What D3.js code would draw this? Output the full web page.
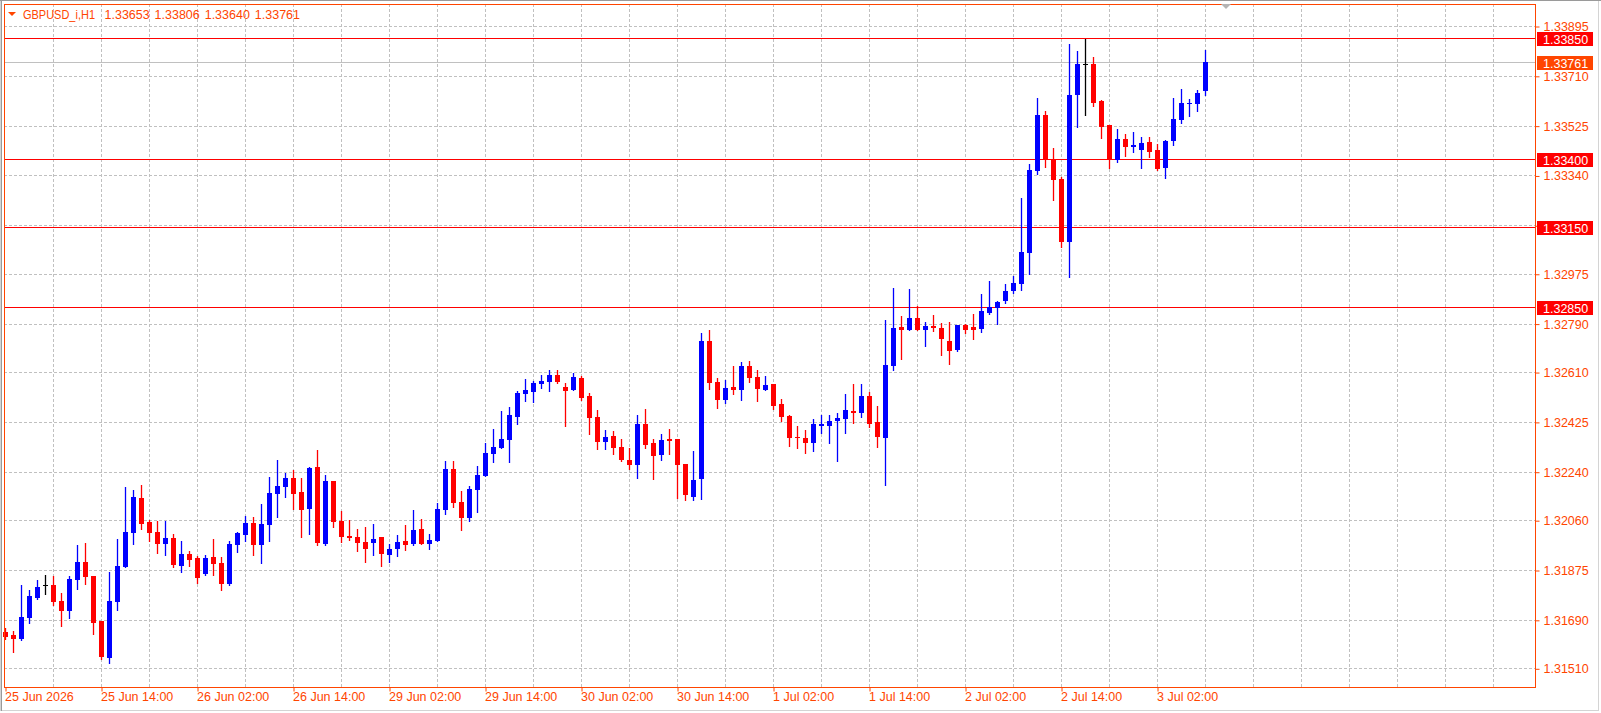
<!DOCTYPE html>
<html>
<head>
<meta charset="utf-8">
<script src="https://cdn.jsdelivr.net/npm/d3@7"></script>
<style>
html, body { margin: 0; padding: 0; background: #fff; overflow: hidden; }
svg { display: block; font-family: "Liberation Sans", Arial, sans-serif; }
</style>
</head>
<body>
<div class="chart"></div>
<script>
// hourly bars, oldest first (25 Jun 02:00 .. 3 Jul)
var openPrices = [
  1.31643, 1.31633, 1.31618, 1.31698, 1.31772, 1.31819, 1.31819, 1.31760, 1.31724, 1.31839,
  1.31904, 1.31852, 1.31685, 1.31548, 1.31757, 1.31887, 1.32013, 1.32142, 1.32053, 1.32016,
  1.31972, 1.31993, 1.31891, 1.31934, 1.31919, 1.31861, 1.31923, 1.31901, 1.31824, 1.31969,
  1.32006, 1.32049, 1.31969, 1.32043, 1.32158, 1.32183, 1.32216, 1.32164, 1.32101, 1.32257,
  1.31971, 1.32205, 1.32057, 1.32001, 1.31997, 1.31979, 1.31975, 1.31997, 1.31931, 1.31954,
  1.31982, 1.31972, 1.32027, 1.31972, 1.31983, 1.32097, 1.32250, 1.32127, 1.32068, 1.32172,
  1.32224, 1.32305, 1.32328, 1.32357, 1.32443, 1.32528, 1.32536, 1.32565, 1.32573, 1.32599,
  1.32554, 1.32543, 1.32588, 1.32521, 1.32443, 1.32350, 1.32372, 1.32331, 1.32283, 1.32264,
  1.32417, 1.32346, 1.32302, 1.32361, 1.32361, 1.32268, 1.32146, 1.32212, 1.32725, 1.32573,
  1.32506, 1.32554, 1.32543, 1.32632, 1.32591, 1.32543, 1.32565, 1.32491, 1.32446, 1.32368,
  1.32365, 1.32346, 1.32409, 1.32409, 1.32428, 1.32435, 1.32465, 1.32458, 1.32521, 1.32424,
  1.32365, 1.32632, 1.32777, 1.32766, 1.32810, 1.32766, 1.32781, 1.32773, 1.32725, 1.32691,
  1.32784, 1.32777, 1.32769, 1.32829, 1.32847, 1.32873, 1.32911, 1.32936, 1.33052, 1.33356,
  1.33564, 1.33397, 1.33326, 1.33092, 1.33638, 1.33753, 1.33753, 1.33616, 1.33527, 1.33397,
  1.33475, 1.33445, 1.33434, 1.33464, 1.33434, 1.33367, 1.33468, 1.33545, 1.33605, 1.33605,
  1.33653
];
var highPrices = [
  1.31658, 1.31648, 1.31819, 1.31800, 1.31837, 1.31856, 1.31853, 1.31789, 1.31852, 1.31967,
  1.31975, 1.31853, 1.31687, 1.31867, 1.31990, 1.32183, 1.32172, 1.32190, 1.32061, 1.32057,
  1.32057, 1.32008, 1.31982, 1.31946, 1.31927, 1.31930, 1.31990, 1.31923, 1.31982, 1.32016,
  1.32075, 1.32071, 1.32120, 1.32220, 1.32283, 1.32235, 1.32246, 1.32216, 1.32257, 1.32320,
  1.32227, 1.32206, 1.32094, 1.32060, 1.32027, 1.32034, 1.32045, 1.31998, 1.31971, 1.32005,
  1.32042, 1.32097, 1.32064, 1.32009, 1.32123, 1.32279, 1.32279, 1.32168, 1.32186, 1.32261,
  1.32346, 1.32398, 1.32465, 1.32480, 1.32539, 1.32584, 1.32576, 1.32599, 1.32617, 1.32617,
  1.32569, 1.32606, 1.32595, 1.32532, 1.32469, 1.32394, 1.32391, 1.32361, 1.32328, 1.32450,
  1.32472, 1.32361, 1.32380, 1.32398, 1.32362, 1.32269, 1.32316, 1.32755, 1.32766, 1.32588,
  1.32580, 1.32632, 1.32647, 1.32651, 1.32617, 1.32595, 1.32566, 1.32510, 1.32450, 1.32409,
  1.32394, 1.32435, 1.32450, 1.32450, 1.32458, 1.32528, 1.32565, 1.32565, 1.32536, 1.32484,
  1.32803, 1.32922, 1.32818, 1.32918, 1.32855, 1.32795, 1.32821, 1.32792, 1.32795, 1.32785,
  1.32788, 1.32825, 1.32899, 1.32948, 1.32873, 1.32936, 1.32966, 1.33256, 1.33382, 1.33627,
  1.33579, 1.33441, 1.33334, 1.33828, 1.33802, 1.33846, 1.33779, 1.33620, 1.33528, 1.33512,
  1.33493, 1.33501, 1.33482, 1.33482, 1.33456, 1.33471, 1.33627, 1.33661, 1.33623, 1.33657,
  1.33806
];
var lowPrices = [
  1.31618, 1.31571, 1.31615, 1.31679, 1.31767, 1.31787, 1.31745, 1.31668, 1.31698, 1.31804,
  1.31824, 1.31638, 1.31544, 1.31529, 1.31726, 1.31886, 1.31972, 1.32028, 1.31983, 1.31939,
  1.31931, 1.31887, 1.31868, 1.31891, 1.31826, 1.31857, 1.31857, 1.31801, 1.31820, 1.31941,
  1.31983, 1.31931, 1.31902, 1.31983, 1.32072, 1.32146, 1.32101, 1.31997, 1.32008, 1.31967,
  1.31967, 1.32034, 1.31979, 1.31986, 1.31945, 1.31905, 1.31931, 1.31891, 1.31905, 1.31928,
  1.31950, 1.31969, 1.31971, 1.31954, 1.31982, 1.32083, 1.32109, 1.32023, 1.32057, 1.32090,
  1.32223, 1.32276, 1.32327, 1.32276, 1.32417, 1.32502, 1.32498, 1.32550, 1.32539, 1.32569,
  1.32409, 1.32542, 1.32506, 1.32380, 1.32324, 1.32324, 1.32305, 1.32279, 1.32250, 1.32216,
  1.32327, 1.32212, 1.32283, 1.32305, 1.32142, 1.32135, 1.32135, 1.32138, 1.32547, 1.32476,
  1.32495, 1.32528, 1.32506, 1.32573, 1.32502, 1.32542, 1.32472, 1.32428, 1.32335, 1.32328,
  1.32309, 1.32316, 1.32383, 1.32346, 1.32279, 1.32383, 1.32420, 1.32443, 1.32406, 1.32331,
  1.32190, 1.32617, 1.32658, 1.32765, 1.32765, 1.32706, 1.32762, 1.32673, 1.32640, 1.32690,
  1.32755, 1.32732, 1.32758, 1.32825, 1.32788, 1.32866, 1.32903, 1.32914, 1.32974, 1.33345,
  1.33371, 1.33248, 1.33074, 1.32962, 1.33519, 1.33564, 1.33597, 1.33479, 1.33367, 1.33390,
  1.33412, 1.33427, 1.33367, 1.33408, 1.33360, 1.33330, 1.33453, 1.33534, 1.33560, 1.33579,
  1.33640
];
var closePrices = [
  1.31627, 1.31620, 1.31700, 1.31778, 1.31811, 1.31819, 1.31757, 1.31724, 1.31841, 1.31904,
  1.31850, 1.31678, 1.31552, 1.31760, 1.31889, 1.32016, 1.32146, 1.32047, 1.32013, 1.31972,
  1.31993, 1.31893, 1.31934, 1.31913, 1.31845, 1.31919, 1.31898, 1.31824, 1.31971, 1.32012,
  1.32049, 1.31969, 1.32045, 1.32160, 1.32186, 1.32216, 1.32157, 1.32097, 1.32253, 1.31975,
  1.32205, 1.32053, 1.31997, 1.31993, 1.31976, 1.31953, 1.31990, 1.31934, 1.31953, 1.31979,
  1.31969, 1.32023, 1.31972, 1.31986, 1.32101, 1.32250, 1.32123, 1.32068, 1.32175, 1.32227,
  1.32309, 1.32331, 1.32361, 1.32450, 1.32532, 1.32543, 1.32569, 1.32576, 1.32599, 1.32573,
  1.32539, 1.32591, 1.32513, 1.32439, 1.32350, 1.32368, 1.32328, 1.32283, 1.32264, 1.32417,
  1.32339, 1.32298, 1.32357, 1.32354, 1.32264, 1.32153, 1.32209, 1.32725, 1.32569, 1.32506,
  1.32550, 1.32543, 1.32632, 1.32588, 1.32547, 1.32562, 1.32484, 1.32443, 1.32365, 1.32365,
  1.32346, 1.32417, 1.32417, 1.32428, 1.32439, 1.32469, 1.32458, 1.32521, 1.32417, 1.32368,
  1.32636, 1.32773, 1.32766, 1.32810, 1.32766, 1.32781, 1.32773, 1.32732, 1.32688, 1.32784,
  1.32766, 1.32766, 1.32836, 1.32851, 1.32870, 1.32911, 1.32940, 1.33055, 1.33360, 1.33564,
  1.33397, 1.33323, 1.33092, 1.33638, 1.33753, 1.33753, 1.33609, 1.33519, 1.33401, 1.33475,
  1.33445, 1.33453, 1.33460, 1.33427, 1.33364, 1.33468, 1.33549, 1.33609, 1.33609, 1.33646,
  1.33761
];

var symbolName = "GBPUSD_i,H1";
var timeLabels = ["25 Jun 2026", "25 Jun 14:00", "26 Jun 02:00", "26 Jun 14:00", "29 Jun 02:00",
  "29 Jun 14:00", "30 Jun 02:00", "30 Jun 14:00", "1 Jul 02:00", "1 Jul 14:00",
  "2 Jul 02:00", "2 Jul 14:00", "3 Jul 02:00"];
var timeLabelBars = [0, 12, 24, 36, 48, 60, 72, 84, 96, 108, 120, 132, 144];
var priceTicks = [1.33895, 1.33710, 1.33525, 1.33340, 1.33155, 1.32975, 1.32790, 1.32610,
  1.32425, 1.32240, 1.32060, 1.31875, 1.31690, 1.31510];
var levelLines = [1.33850, 1.33400, 1.33150, 1.32850];
var bidPrice = 1.33761;

var svgWidth = 1601;
var svgHeight = 713;
var frame = { left: 4, top: 4, right: 1535, bottom: 687 };
var axisColor = "#ff4500";
var gridColor = "#c0c0c0";

var bars = openPrices.map(function(o, i) {
  return { i: i, o: o, h: highPrices[i], l: lowPrices[i], c: closePrices[i] };
});

var svg = d3.select(".chart")
  .append("svg")
  .attr("width", svgWidth)
  .attr("height", svgHeight);

// bar index -> pixel, 8 px per bar
var xScale = d3.scaleLinear().domain([0, 1]).range([5.5, 13.5]);
var yScale = d3.scaleLinear().domain([1.31510, 1.33895]).range([668.3, 26]);
var py = function(v) { return Math.round(yScale(v)) + 0.5; };

// window border
svg.append("rect")
  .attr("x", 0.5).attr("y", 0.5)
  .attr("width", 1598).attr("height", 710)
  .attr("fill", "none").attr("stroke", "#d4d4d4");
svg.append("line")
  .attr("x1", 1.5).attr("x2", 1.5).attr("y1", 0).attr("y2", 711)
  .attr("stroke", "#9a9a9a");
svg.append("line")
  .attr("x1", 0).attr("x2", 1601).attr("y1", 0.5).attr("y2", 0.5)
  .attr("stroke", "#9a9a9a");

var chartGroup = svg.append("g");

// vertical grid every 6 bars
var vGrid = d3.range(6, 200, 6).filter(function(i) { return xScale(i) < frame.right; });
chartGroup.selectAll(".vgrid")
  .data(vGrid)
  .enter()
  .append("line")
  .attr("x1", function(d) { return xScale(d); })
  .attr("x2", function(d) { return xScale(d); })
  .attr("y1", frame.top)
  .attr("y2", frame.bottom)
  .attr("stroke", gridColor)
  .attr("stroke-dasharray", "3,2");

// horizontal grid at price ticks
chartGroup.selectAll(".hgrid")
  .data(priceTicks)
  .enter()
  .append("line")
  .attr("x1", frame.left)
  .attr("x2", frame.right)
  .attr("y1", py)
  .attr("y2", py)
  .attr("stroke", gridColor)
  .attr("stroke-dasharray", "3,2");

// bid line
chartGroup.append("line")
  .attr("x1", frame.left).attr("x2", frame.right)
  .attr("y1", py(bidPrice)).attr("y2", py(bidPrice))
  .attr("stroke", "#c0c0c0");

// horizontal levels
chartGroup.selectAll(".level")
  .data(levelLines)
  .enter()
  .append("line")
  .attr("x1", frame.left)
  .attr("x2", frame.right)
  .attr("y1", py)
  .attr("y2", py)
  .attr("stroke", "#ff0000");

// candles
var colorOf = function(d) {
  if (d.c > d.o) return "#0000ff";
  if (d.c < d.o) return "#ff0000";
  return "#000000";
};

var candles = chartGroup.selectAll(".candle")
  .data(bars)
  .enter()
  .append("g");

candles.append("line")
  .attr("x1", function(d) { return xScale(d.i); })
  .attr("x2", function(d) { return xScale(d.i); })
  .attr("y1", function(d) { return Math.round(yScale(d.h)); })
  .attr("y2", function(d) { return Math.round(yScale(d.l)) + 1; })
  .attr("stroke", colorOf)
  .attr("stroke-width", 1.3);

candles.append("rect")
  .attr("x", function(d) { return xScale(d.i) - 2.5; })
  .attr("width", 5)
  .attr("y", function(d) { return Math.round(yScale(Math.max(d.o, d.c))); })
  .attr("height", function(d) {
    var h = Math.round(yScale(Math.min(d.o, d.c))) - Math.round(yScale(Math.max(d.o, d.c)));
    return Math.max(h, 1);
  })
  .attr("fill", colorOf);

// chart frame
svg.append("rect")
  .attr("x", frame.left + 0.5)
  .attr("y", frame.top + 0.5)
  .attr("width", frame.right - frame.left)
  .attr("height", frame.bottom - frame.top)
  .attr("fill", "none")
  .attr("stroke", axisColor);

// price axis
var rightAxis = d3.axisRight(yScale)
  .tickValues(priceTicks)
  .tickSize(4)
  .tickPadding(4)
  .tickFormat(d3.format(".5f"));

var yAxis = svg.append("g")
  .attr("transform", "translate(" + (frame.right + 0.5) + ",0.5)")
  .call(rightAxis);
yAxis.select(".domain").remove();
yAxis.selectAll("line").attr("stroke", axisColor);
yAxis.selectAll("text")
  .attr("fill", axisColor)
  .style("font-size", "12.5px")
  .style("font-family", "'Liberation Sans', Arial, sans-serif");

// time axis
var bottomAxis = d3.axisBottom(xScale)
  .tickValues(timeLabelBars)
  .tickSize(4)
  .tickPadding(1)
  .tickFormat(function(d, k) { return timeLabels[k]; });

var xAxis = svg.append("g")
  .attr("transform", "translate(0," + (frame.bottom + 0.5) + ")")
  .call(bottomAxis);
xAxis.select(".domain").remove();
xAxis.selectAll("line").attr("stroke", axisColor);
xAxis.selectAll("text")
  .attr("fill", axisColor)
  .attr("text-anchor", "start")
  .attr("x", -1)
  .style("font-size", "12.5px")
  .style("font-family", "'Liberation Sans', Arial, sans-serif");

// price tags for levels and bid
var tags = levelLines.map(function(v) { return { v: v, fill: "#ff0000" }; });
tags.push({ v: bidPrice, fill: "#ff4500" });

var tagGroup = svg.selectAll(".tag")
  .data(tags)
  .enter()
  .append("g");
tagGroup.append("rect")
  .attr("x", 1537)
  .attr("y", function(d) { return Math.round(yScale(d.v)) - 6; })
  .attr("width", 56)
  .attr("height", 14)
  .attr("fill", function(d) { return d.fill; });
tagGroup.append("text")
  .attr("x", 1543)
  .attr("y", function(d) { return Math.round(yScale(d.v)) + 5.5; })
  .attr("fill", "#ffffff")
  .style("font-size", "12.5px")
  .text(function(d) { return d3.format(".5f")(d.v); });

// header
var last = bars[bars.length - 1];
svg.append("path")
  .attr("d", "M8,12 L16,12 L12,16 Z")
  .attr("fill", axisColor);
svg.append("text")
  .attr("x", 23)
  .attr("y", 18.5)
  .attr("fill", axisColor)
  .attr("textLength", 72)
  .attr("lengthAdjust", "spacingAndGlyphs")
  .style("font-size", "12.5px")
  .text(symbolName);
var headerVals = [last.o, last.h, last.l, last.c];
svg.selectAll(".hdr")
  .data(headerVals)
  .enter()
  .append("text")
  .attr("x", function(d, k) { return 104.5 + k * 50.1; })
  .attr("y", 18.5)
  .attr("fill", axisColor)
  .style("font-size", "12.5px")
  .text(function(d) { return d3.format(".5f")(d); });

// chart shift marker
svg.append("path")
  .attr("d", "M1221,4 L1231,4 L1226,9 Z")
  .attr("fill", "#b4b4b4");
</script>
</body>
</html>
